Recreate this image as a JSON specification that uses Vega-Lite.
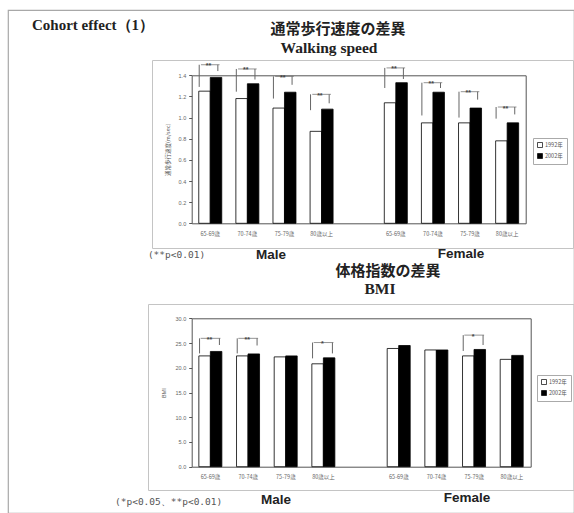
{
  "$schema": "https://vega.github.io/schema/vega-lite/v6.json",
  "width": 566,
  "height": 503,
  "autosize": {"type": "none"},
  "padding": {"left": 8, "top": 10, "right": 0, "bottom": 0},
  "background": "white",
  "config": {"view": {"stroke": "#a8a8a8", "strokeWidth": 1.2}, "axis": {"grid": false}},
  "datasets": {
    "walk": [
      {"cat": "M:65-69歳", "sex": "Male", "age": "65-69歳", "year": "1992年", "speed": 1.25},
      {"cat": "M:65-69歳", "sex": "Male", "age": "65-69歳", "year": "2002年", "speed": 1.38},
      {"cat": "M:70-74歳", "sex": "Male", "age": "70-74歳", "year": "1992年", "speed": 1.18},
      {"cat": "M:70-74歳", "sex": "Male", "age": "70-74歳", "year": "2002年", "speed": 1.32},
      {"cat": "M:75-79歳", "sex": "Male", "age": "75-79歳", "year": "1992年", "speed": 1.09},
      {"cat": "M:75-79歳", "sex": "Male", "age": "75-79歳", "year": "2002年", "speed": 1.24},
      {"cat": "M:80歳以上", "sex": "Male", "age": "80歳以上", "year": "1992年", "speed": 0.87},
      {"cat": "M:80歳以上", "sex": "Male", "age": "80歳以上", "year": "2002年", "speed": 1.08},
      {"cat": "F:65-69歳", "sex": "Female", "age": "65-69歳", "year": "1992年", "speed": 1.14},
      {"cat": "F:65-69歳", "sex": "Female", "age": "65-69歳", "year": "2002年", "speed": 1.33},
      {"cat": "F:70-74歳", "sex": "Female", "age": "70-74歳", "year": "1992年", "speed": 0.95},
      {"cat": "F:70-74歳", "sex": "Female", "age": "70-74歳", "year": "2002年", "speed": 1.24},
      {"cat": "F:75-79歳", "sex": "Female", "age": "75-79歳", "year": "1992年", "speed": 0.95},
      {"cat": "F:75-79歳", "sex": "Female", "age": "75-79歳", "year": "2002年", "speed": 1.09},
      {"cat": "F:80歳以上", "sex": "Female", "age": "80歳以上", "year": "1992年", "speed": 0.78},
      {"cat": "F:80歳以上", "sex": "Female", "age": "80歳以上", "year": "2002年", "speed": 0.95}
    ],
    "walkSig": [
      {"cat": "M:65-69歳", "sig": "**", "bracket": 1.5, "leg1992": 1.29, "leg2002": 1.44},
      {"cat": "M:70-74歳", "sig": "**", "bracket": 1.46, "leg1992": 1.245, "leg2002": 1.36},
      {"cat": "M:75-79歳", "sig": "**", "bracket": 1.39, "leg1992": 1.18, "leg2002": 1.31},
      {"cat": "M:80歳以上", "sig": "**", "bracket": 1.22, "leg1992": 1.07, "leg2002": 1.135},
      {"cat": "F:65-69歳", "sig": "**", "bracket": 1.47, "leg1992": 1.28, "leg2002": 1.365},
      {"cat": "F:70-74歳", "sig": "**", "bracket": 1.33, "leg1992": 1.02, "leg2002": 1.28},
      {"cat": "F:75-79歳", "sig": "**", "bracket": 1.245, "leg1992": 1.0, "leg2002": 1.17},
      {"cat": "F:80歳以上", "sig": "**", "bracket": 1.1, "leg1992": 0.99, "leg2002": 1.03}
    ],
    "bmi": [
      {"cat": "M:65-69歳", "sex": "Male", "age": "65-69歳", "year": "1992年", "bmi": 22.4},
      {"cat": "M:65-69歳", "sex": "Male", "age": "65-69歳", "year": "2002年", "bmi": 23.3},
      {"cat": "M:70-74歳", "sex": "Male", "age": "70-74歳", "year": "1992年", "bmi": 22.4},
      {"cat": "M:70-74歳", "sex": "Male", "age": "70-74歳", "year": "2002年", "bmi": 22.8},
      {"cat": "M:75-79歳", "sex": "Male", "age": "75-79歳", "year": "1992年", "bmi": 22.2},
      {"cat": "M:75-79歳", "sex": "Male", "age": "75-79歳", "year": "2002年", "bmi": 22.4},
      {"cat": "M:80歳以上", "sex": "Male", "age": "80歳以上", "year": "1992年", "bmi": 20.8},
      {"cat": "M:80歳以上", "sex": "Male", "age": "80歳以上", "year": "2002年", "bmi": 22.0},
      {"cat": "F:65-69歳", "sex": "Female", "age": "65-69歳", "year": "1992年", "bmi": 23.9},
      {"cat": "F:65-69歳", "sex": "Female", "age": "65-69歳", "year": "2002年", "bmi": 24.5},
      {"cat": "F:70-74歳", "sex": "Female", "age": "70-74歳", "year": "1992年", "bmi": 23.6},
      {"cat": "F:70-74歳", "sex": "Female", "age": "70-74歳", "year": "2002年", "bmi": 23.6},
      {"cat": "F:75-79歳", "sex": "Female", "age": "75-79歳", "year": "1992年", "bmi": 22.4},
      {"cat": "F:75-79歳", "sex": "Female", "age": "75-79歳", "year": "2002年", "bmi": 23.7},
      {"cat": "F:80歳以上", "sex": "Female", "age": "80歳以上", "year": "1992年", "bmi": 21.7},
      {"cat": "F:80歳以上", "sex": "Female", "age": "80歳以上", "year": "2002年", "bmi": 22.5}
    ],
    "bmiSig": [
      {"cat": "M:65-69歳", "sig": "**", "bracket": 25.95, "leg1992": 22.9, "leg2002": 24.6},
      {"cat": "M:70-74歳", "sig": "**", "bracket": 25.95, "leg1992": 22.9, "leg2002": 24.5},
      {"cat": "M:80歳以上", "sig": "*", "bracket": 25.1, "leg1992": 21.9, "leg2002": 22.9},
      {"cat": "F:75-79歳", "sig": "*", "bracket": 26.6, "leg1992": 23.4, "leg2002": 24.6}
    ]
  },
  "layer": [
    {
      "data": {"name": "walk"},
      "mark": {"type": "bar", "stroke": "black", "strokeWidth": 0.8},
      "encoding": {
        "x": {"field": "cat", "type": "nominal", "scale": {"type": "band", "domain": ["M:65-69歳", "M:70-74歳", "M:75-79歳", "M:80歳以上", "_", "F:65-69歳", "F:70-74歳", "F:75-79歳", "F:80歳以上"], "range": [183.7, 517.7], "paddingInner": 0.38, "paddingOuter": 0.19},
          "axis": {"orient": "bottom", "offset": -289.7, "title": null, "labelExpr": "slice(datum.value, 2)", "labelFont": "Noto Sans CJK JP", "labelFontSize": 5.5, "labelColor": "#666", "labelAngle": 0, "labelPadding": 8, "labelOverlap": false, "ticks": false, "domainColor": "#555"}},
        "xOffset": {"field": "year", "type": "nominal", "scale": {"domain": ["1992年", "2002年"]}},
        "y": {"field": "speed", "type": "quantitative", "scale": {"domain": [0, 1.4], "range": [213.3, 65.3], "nice": false, "zero": false},
          "axis": {"orient": "left", "offset": -183.7, "values": [0, 0.2, 0.4, 0.6, 0.8, 1.0, 1.2, 1.4], "format": ".1f", "title": "通常歩行速度(m/sec)", "titleFont": "Noto Sans CJK JP", "titleFontSize": 5.5, "titleFontWeight": "normal", "titleColor": "#555", "titlePadding": 8, "labelFont": "Liberation Sans", "labelFontSize": 5.5, "labelColor": "#666", "labelPadding": 3, "tickSize": 3, "tickColor": "#555", "domainColor": "#555"}},
        "fill": {"field": "year", "type": "nominal", "scale": {"domain": ["1992年", "2002年"], "range": ["white", "black"]},
          "legend": {"title": null, "orient": "none", "legendX": 525, "legendY": 128, "symbolType": "square", "symbolSize": 25, "symbolStrokeColor": "black", "symbolStrokeWidth": 0.7, "labelFont": "Noto Sans CJK JP", "labelFontSize": 5.5, "labelColor": "#555", "strokeColor": "#aaa", "fillColor": "white", "padding": 4, "rowPadding": 3, "labelOffset": 2}}
      }
    },
    {
      "data": {"name": "walk"},
      "mark": {"type": "point", "opacity": 0},
      "encoding": {
        "x": {"field": "cat", "type": "nominal", "scale": {"type": "band", "domain": ["M:65-69歳", "M:70-74歳", "M:75-79歳", "M:80歳以上", "_", "F:65-69歳", "F:70-74歳", "F:75-79歳", "F:80歳以上"], "range": [183.7, 517.7], "paddingInner": 0.38, "paddingOuter": 0.19},
          "axis": {"orient": "top", "offset": -65.3, "labels": false, "ticks": false, "title": null, "domainColor": "#555"}},
        "y": {"field": "speed", "type": "quantitative", "scale": {"domain": [0, 1.4], "range": [213.3, 65.3], "nice": false, "zero": false},
          "axis": {"orient": "right", "offset": -48.3, "labels": false, "ticks": false, "title": null, "domainColor": "#555"}}
      }
    },
    {
      "data": {"name": "walkSig"},
      "mark": {"type": "rule", "color": "#666", "strokeWidth": 1},
      "encoding": {
        "x": {"field": "cat", "type": "nominal", "bandPosition": 0.02, "scale": {"type": "band", "domain": ["M:65-69歳", "M:70-74歳", "M:75-79歳", "M:80歳以上", "_", "F:65-69歳", "F:70-74歳", "F:75-79歳", "F:80歳以上"], "range": [183.7, 517.7], "paddingInner": 0.38, "paddingOuter": 0.19}, "axis": null},
        "y": {"field": "bracket", "type": "quantitative", "scale": {"domain": [0, 1.4], "range": [213.3, 65.3], "nice": false, "zero": false}, "axis": null},
        "y2": {"field": "leg1992"}
      }
    },
    {
      "data": {"name": "walkSig"},
      "mark": {"type": "rule", "color": "#666", "strokeWidth": 1},
      "encoding": {
        "x": {"field": "cat", "type": "nominal", "bandPosition": 0.83, "scale": {"type": "band", "domain": ["M:65-69歳", "M:70-74歳", "M:75-79歳", "M:80歳以上", "_", "F:65-69歳", "F:70-74歳", "F:75-79歳", "F:80歳以上"], "range": [183.7, 517.7], "paddingInner": 0.38, "paddingOuter": 0.19}, "axis": null},
        "y": {"field": "bracket", "type": "quantitative", "scale": {"domain": [0, 1.4], "range": [213.3, 65.3], "nice": false, "zero": false}, "axis": null},
        "y2": {"field": "leg2002"}
      }
    },
    {
      "data": {"name": "walkSig"},
      "mark": {"type": "tick", "color": "#666", "thickness": 1, "size": 18.6},
      "encoding": {
        "x": {"field": "cat", "type": "nominal", "bandPosition": 0.425, "scale": {"type": "band", "domain": ["M:65-69歳", "M:70-74歳", "M:75-79歳", "M:80歳以上", "_", "F:65-69歳", "F:70-74歳", "F:75-79歳", "F:80歳以上"], "range": [183.7, 517.7], "paddingInner": 0.38, "paddingOuter": 0.19}, "axis": null},
        "y": {"field": "bracket", "type": "quantitative", "scale": {"domain": [0, 1.4], "range": [213.3, 65.3], "nice": false, "zero": false}, "axis": null}
      }
    },
    {
      "data": {"name": "walkSig"},
      "mark": {"type": "text", "font": "Liberation Sans", "fontSize": 7, "fontWeight": "bold", "color": "#444", "baseline": "middle", "dy": 1.5},
      "encoding": {
        "x": {"field": "cat", "type": "nominal", "bandPosition": 0.425, "scale": {"type": "band", "domain": ["M:65-69歳", "M:70-74歳", "M:75-79歳", "M:80歳以上", "_", "F:65-69歳", "F:70-74歳", "F:75-79歳", "F:80歳以上"], "range": [183.7, 517.7], "paddingInner": 0.38, "paddingOuter": 0.19}, "axis": null},
        "y": {"field": "bracket", "type": "quantitative", "scale": {"domain": [0, 1.4], "range": [213.3, 65.3], "nice": false, "zero": false}, "axis": null},
        "text": {"field": "sig"}
      }
    },
    {
      "data": {"values": [{}]},
      "mark": {"type": "text", "font": "Noto Sans CJK JP", "fontWeight": "bold", "fontSize": 15, "align": "center", "baseline": "middle", "color": "#222", "text": "通常歩行速度の差異"},
      "encoding": {
        "x": {"datum": "M:80歳以上", "type": "nominal", "bandPosition": 1.214, "scale": {"type": "band", "domain": ["M:65-69歳", "M:70-74歳", "M:75-79歳", "M:80歳以上", "_", "F:65-69歳", "F:70-74歳", "F:75-79歳", "F:80歳以上"], "range": [183.7, 517.7], "paddingInner": 0.38, "paddingOuter": 0.19}, "axis": null},
        "y": {"datum": 1.84, "type": "quantitative", "scale": {"domain": [0, 1.4], "range": [213.3, 65.3], "nice": false, "zero": false}, "axis": null}
      }
    },
    {
      "data": {"values": [{}]},
      "mark": {"type": "text", "font": "Liberation Serif", "fontWeight": "bold", "fontSize": 15.5, "align": "center", "baseline": "middle", "color": "#222", "text": "Walking speed"},
      "encoding": {
        "x": {"datum": "M:80歳以上", "type": "nominal", "bandPosition": 0.823, "scale": {"type": "band", "domain": ["M:65-69歳", "M:70-74歳", "M:75-79歳", "M:80歳以上", "_", "F:65-69歳", "F:70-74歳", "F:75-79歳", "F:80歳以上"], "range": [183.7, 517.7], "paddingInner": 0.38, "paddingOuter": 0.19}, "axis": null},
        "y": {"datum": 1.66, "type": "quantitative", "scale": {"domain": [0, 1.4], "range": [213.3, 65.3], "nice": false, "zero": false}, "axis": null}
      }
    },
    {
      "data": {"values": [{}]},
      "mark": {"type": "text", "font": "Liberation Sans", "fontWeight": "bold", "fontSize": 13.5, "align": "center", "baseline": "middle", "color": "#222", "text": "Male"},
      "encoding": {
        "x": {"datum": "M:75-79歳", "type": "nominal", "bandPosition": -0.09, "scale": {"type": "band", "domain": ["M:65-69歳", "M:70-74歳", "M:75-79歳", "M:80歳以上", "_", "F:65-69歳", "F:70-74歳", "F:75-79歳", "F:80歳以上"], "range": [183.7, 517.7], "paddingInner": 0.38, "paddingOuter": 0.19}, "axis": null},
        "y": {"datum": -0.3, "type": "quantitative", "scale": {"domain": [0, 1.4], "range": [213.3, 65.3], "nice": false, "zero": false}, "axis": null}
      }
    },
    {
      "data": {"values": [{}]},
      "mark": {"type": "text", "font": "Liberation Sans", "fontWeight": "bold", "fontSize": 13.5, "align": "center", "baseline": "middle", "color": "#222", "text": "Female"},
      "encoding": {
        "x": {"datum": "F:75-79歳", "type": "nominal", "bandPosition": 0.11, "scale": {"type": "band", "domain": ["M:65-69歳", "M:70-74歳", "M:75-79歳", "M:80歳以上", "_", "F:65-69歳", "F:70-74歳", "F:75-79歳", "F:80歳以上"], "range": [183.7, 517.7], "paddingInner": 0.38, "paddingOuter": 0.19}, "axis": null},
        "y": {"datum": -0.29, "type": "quantitative", "scale": {"domain": [0, 1.4], "range": [213.3, 65.3], "nice": false, "zero": false}, "axis": null}
      }
    },
    {
      "data": {"values": [{}]},
      "mark": {"type": "text", "font": "DejaVu Sans Mono", "fontSize": 9.5, "align": "left", "baseline": "middle", "color": "#555", "text": "(**p<0.01)"},
      "encoding": {
        "x": {"datum": "M:65-69歳", "type": "nominal", "bandPosition": -2.21, "scale": {"type": "band", "domain": ["M:65-69歳", "M:70-74歳", "M:75-79歳", "M:80歳以上", "_", "F:65-69歳", "F:70-74歳", "F:75-79歳", "F:80歳以上"], "range": [183.7, 517.7], "paddingInner": 0.38, "paddingOuter": 0.19}, "axis": null},
        "y": {"datum": -0.3, "type": "quantitative", "scale": {"domain": [0, 1.4], "range": [213.3, 65.3], "nice": false, "zero": false}, "axis": null}
      }
    },
    {
      "data": {"values": [{}]},
      "mark": {"type": "point", "opacity": 0},
      "encoding": {
        "x": {"datum": 0, "type": "quantitative", "scale": {"domain": [0, 1], "range": [144, 565], "nice": false, "zero": false}, "axis": {"orient": "top", "offset": -50, "labels": false, "ticks": false, "title": null, "domainColor": "#c4c4c4"}},
        "y": {"datum": 0, "type": "quantitative", "scale": {"domain": [0, 1], "range": [238, 50], "nice": false, "zero": false}, "axis": {"orient": "left", "offset": -144, "labels": false, "ticks": false, "title": null, "domainColor": "#c4c4c4"}}
      }
    },
    {
      "data": {"values": [{}]},
      "mark": {"type": "point", "opacity": 0},
      "encoding": {
        "x": {"datum": 0, "type": "quantitative", "scale": {"domain": [0, 1], "range": [144, 565], "nice": false, "zero": false}, "axis": {"orient": "bottom", "offset": -265, "labels": false, "ticks": false, "title": null, "domainColor": "#c4c4c4"}},
        "y": {"datum": 0, "type": "quantitative", "scale": {"domain": [0, 1], "range": [238, 50], "nice": false, "zero": false}, "axis": {"orient": "right", "offset": -1, "labels": false, "ticks": false, "title": null, "domainColor": "#c4c4c4"}}
      }
    },
    {
      "data": {"values": [{}]},
      "mark": {"type": "text", "font": "Liberation Serif", "fontWeight": "bold", "fontSize": 15, "align": "left", "baseline": "middle", "color": "#222", "text": "Cohort effect（1）"},
      "encoding": {
        "x": {"datum": -0.285, "type": "quantitative", "scale": {"domain": [0, 1], "range": [144, 565], "nice": false, "zero": false}, "axis": null},
        "y": {"datum": 1.186, "type": "quantitative", "scale": {"domain": [0, 1], "range": [238, 50], "nice": false, "zero": false}, "axis": null}
      }
    },
    {
      "data": {"name": "bmi"},
      "mark": {"type": "bar", "stroke": "black", "strokeWidth": 0.8},
      "encoding": {
        "x": {"field": "cat", "type": "nominal", "scale": {"type": "band", "domain": ["M:65-69歳", "M:70-74歳", "M:75-79歳", "M:80歳以上", "_", "F:65-69歳", "F:70-74歳", "F:75-79歳", "F:80歳以上"], "range": [183.7, 522.7], "paddingInner": 0.38, "paddingOuter": 0.19},
          "axis": {"orient": "bottom", "offset": -46.3, "title": null, "labelExpr": "slice(datum.value, 2)", "labelFont": "Noto Sans CJK JP", "labelFontSize": 5.5, "labelColor": "#666", "labelAngle": 0, "labelPadding": 8, "labelOverlap": false, "ticks": false, "domainColor": "#555"}},
        "xOffset": {"field": "year", "type": "nominal", "scale": {"domain": ["1992年", "2002年"]}},
        "y": {"field": "bmi", "type": "quantitative", "scale": {"domain": [0, 30], "range": [456.7, 308.3], "nice": false, "zero": false},
          "axis": {"orient": "left", "offset": -183.7, "values": [0, 5, 10, 15, 20, 25, 30], "format": ".1f", "title": "BMI", "titleFont": "Liberation Sans", "titleFontSize": 5.5, "titleFontWeight": "normal", "titleColor": "#555", "titlePadding": 8, "labelFont": "Liberation Sans", "labelFontSize": 5.5, "labelColor": "#666", "labelPadding": 3, "tickSize": 3, "tickColor": "#555", "domainColor": "#555"}},
        "fill": {"field": "year", "type": "nominal", "scale": {"domain": ["1992年", "2002年"], "range": ["white", "black"]},
          "legend": {"title": null, "orient": "none", "legendX": 529, "legendY": 365, "symbolType": "square", "symbolSize": 25, "symbolStrokeColor": "black", "symbolStrokeWidth": 0.7, "labelFont": "Noto Sans CJK JP", "labelFontSize": 5.5, "labelColor": "#555", "strokeColor": "#aaa", "fillColor": "white", "padding": 4, "rowPadding": 3, "labelOffset": 2}}
      }
    },
    {
      "data": {"name": "bmi"},
      "mark": {"type": "point", "opacity": 0},
      "encoding": {
        "x": {"field": "cat", "type": "nominal", "scale": {"type": "band", "domain": ["M:65-69歳", "M:70-74歳", "M:75-79歳", "M:80歳以上", "_", "F:65-69歳", "F:70-74歳", "F:75-79歳", "F:80歳以上"], "range": [183.7, 522.7], "paddingInner": 0.38, "paddingOuter": 0.19},
          "axis": {"orient": "top", "offset": -308.3, "labels": false, "ticks": false, "title": null, "domainColor": "#555"}},
        "y": {"field": "bmi", "type": "quantitative", "scale": {"domain": [0, 30], "range": [456.7, 308.3], "nice": false, "zero": false},
          "axis": {"orient": "right", "offset": -43.3, "labels": false, "ticks": false, "title": null, "domainColor": "#555"}}
      }
    },
    {
      "data": {"name": "bmiSig"},
      "mark": {"type": "rule", "color": "#666", "strokeWidth": 1},
      "encoding": {
        "x": {"field": "cat", "type": "nominal", "bandPosition": 0.03, "scale": {"type": "band", "domain": ["M:65-69歳", "M:70-74歳", "M:75-79歳", "M:80歳以上", "_", "F:65-69歳", "F:70-74歳", "F:75-79歳", "F:80歳以上"], "range": [183.7, 522.7], "paddingInner": 0.38, "paddingOuter": 0.19}, "axis": null},
        "y": {"field": "bracket", "type": "quantitative", "scale": {"domain": [0, 30], "range": [456.7, 308.3], "nice": false, "zero": false}, "axis": null},
        "y2": {"field": "leg1992"}
      }
    },
    {
      "data": {"name": "bmiSig"},
      "mark": {"type": "rule", "color": "#666", "strokeWidth": 1},
      "encoding": {
        "x": {"field": "cat", "type": "nominal", "bandPosition": 0.88, "scale": {"type": "band", "domain": ["M:65-69歳", "M:70-74歳", "M:75-79歳", "M:80歳以上", "_", "F:65-69歳", "F:70-74歳", "F:75-79歳", "F:80歳以上"], "range": [183.7, 522.7], "paddingInner": 0.38, "paddingOuter": 0.19}, "axis": null},
        "y": {"field": "bracket", "type": "quantitative", "scale": {"domain": [0, 30], "range": [456.7, 308.3], "nice": false, "zero": false}, "axis": null},
        "y2": {"field": "leg2002"}
      }
    },
    {
      "data": {"name": "bmiSig"},
      "mark": {"type": "tick", "color": "#666", "thickness": 1, "size": 19.8},
      "encoding": {
        "x": {"field": "cat", "type": "nominal", "bandPosition": 0.455, "scale": {"type": "band", "domain": ["M:65-69歳", "M:70-74歳", "M:75-79歳", "M:80歳以上", "_", "F:65-69歳", "F:70-74歳", "F:75-79歳", "F:80歳以上"], "range": [183.7, 522.7], "paddingInner": 0.38, "paddingOuter": 0.19}, "axis": null},
        "y": {"field": "bracket", "type": "quantitative", "scale": {"domain": [0, 30], "range": [456.7, 308.3], "nice": false, "zero": false}, "axis": null}
      }
    },
    {
      "data": {"name": "bmiSig"},
      "mark": {"type": "text", "font": "Liberation Sans", "fontSize": 7, "fontWeight": "bold", "color": "#444", "baseline": "middle", "dy": 1.5},
      "encoding": {
        "x": {"field": "cat", "type": "nominal", "bandPosition": 0.455, "scale": {"type": "band", "domain": ["M:65-69歳", "M:70-74歳", "M:75-79歳", "M:80歳以上", "_", "F:65-69歳", "F:70-74歳", "F:75-79歳", "F:80歳以上"], "range": [183.7, 522.7], "paddingInner": 0.38, "paddingOuter": 0.19}, "axis": null},
        "y": {"field": "bracket", "type": "quantitative", "scale": {"domain": [0, 30], "range": [456.7, 308.3], "nice": false, "zero": false}, "axis": null},
        "text": {"field": "sig"}
      }
    },
    {
      "data": {"values": [{}]},
      "mark": {"type": "text", "font": "Noto Sans CJK JP", "fontWeight": "bold", "fontSize": 15, "align": "center", "baseline": "middle", "color": "#222", "text": "体格指数の差異"},
      "encoding": {
        "x": {"datum": "F:65-69歳", "type": "nominal", "bandPosition": 0.03, "scale": {"type": "band", "domain": ["M:65-69歳", "M:70-74歳", "M:75-79歳", "M:80歳以上", "_", "F:65-69歳", "F:70-74歳", "F:75-79歳", "F:80歳以上"], "range": [183.7, 522.7], "paddingInner": 0.38, "paddingOuter": 0.19}, "axis": null},
        "y": {"datum": 39.6, "type": "quantitative", "scale": {"domain": [0, 30], "range": [456.7, 308.3], "nice": false, "zero": false}, "axis": null}
      }
    },
    {
      "data": {"values": [{}]},
      "mark": {"type": "text", "font": "Liberation Serif", "fontWeight": "bold", "fontSize": 15.5, "align": "center", "baseline": "middle", "color": "#222", "text": "BMI"},
      "encoding": {
        "x": {"datum": "F:65-69歳", "type": "nominal", "bandPosition": -0.31, "scale": {"type": "band", "domain": ["M:65-69歳", "M:70-74歳", "M:75-79歳", "M:80歳以上", "_", "F:65-69歳", "F:70-74歳", "F:75-79歳", "F:80歳以上"], "range": [183.7, 522.7], "paddingInner": 0.38, "paddingOuter": 0.19}, "axis": null},
        "y": {"datum": 36.0, "type": "quantitative", "scale": {"domain": [0, 30], "range": [456.7, 308.3], "nice": false, "zero": false}, "axis": null}
      }
    },
    {
      "data": {"values": [{}]},
      "mark": {"type": "text", "font": "Liberation Sans", "fontWeight": "bold", "fontSize": 13.5, "align": "center", "baseline": "middle", "color": "#222", "text": "Male"},
      "encoding": {
        "x": {"datum": "M:75-79歳", "type": "nominal", "bandPosition": 0.077, "scale": {"type": "band", "domain": ["M:65-69歳", "M:70-74歳", "M:75-79歳", "M:80歳以上", "_", "F:65-69歳", "F:70-74歳", "F:75-79歳", "F:80歳以上"], "range": [183.7, 522.7], "paddingInner": 0.38, "paddingOuter": 0.19}, "axis": null},
        "y": {"datum": -6.73, "type": "quantitative", "scale": {"domain": [0, 30], "range": [456.7, 308.3], "nice": false, "zero": false}, "axis": null}
      }
    },
    {
      "data": {"values": [{}]},
      "mark": {"type": "text", "font": "Liberation Sans", "fontWeight": "bold", "fontSize": 13.5, "align": "center", "baseline": "middle", "color": "#222", "text": "Female"},
      "encoding": {
        "x": {"datum": "F:75-79歳", "type": "nominal", "bandPosition": 0.19, "scale": {"type": "band", "domain": ["M:65-69歳", "M:70-74歳", "M:75-79歳", "M:80歳以上", "_", "F:65-69歳", "F:70-74歳", "F:75-79歳", "F:80歳以上"], "range": [183.7, 522.7], "paddingInner": 0.38, "paddingOuter": 0.19}, "axis": null},
        "y": {"datum": -6.33, "type": "quantitative", "scale": {"domain": [0, 30], "range": [456.7, 308.3], "nice": false, "zero": false}, "axis": null}
      }
    },
    {
      "data": {"values": [{}]},
      "mark": {"type": "text", "font": "DejaVu Sans Mono", "fontSize": 9.5, "align": "left", "baseline": "middle", "color": "#555", "text": "(*p<0.05、**p<0.01)"},
      "encoding": {
        "x": {"datum": "M:65-69歳", "type": "nominal", "bandPosition": -3.59, "scale": {"type": "band", "domain": ["M:65-69歳", "M:70-74歳", "M:75-79歳", "M:80歳以上", "_", "F:65-69歳", "F:70-74歳", "F:75-79歳", "F:80歳以上"], "range": [183.7, 522.7], "paddingInner": 0.38, "paddingOuter": 0.19}, "axis": null},
        "y": {"datum": -7.14, "type": "quantitative", "scale": {"domain": [0, 30], "range": [456.7, 308.3], "nice": false, "zero": false}, "axis": null}
      }
    },
    {
      "data": {"values": [{}]},
      "mark": {"type": "point", "opacity": 0},
      "encoding": {
        "x": {"datum": 0, "type": "quantitative", "scale": {"domain": [0, 1], "range": [140, 565.5], "nice": false, "zero": false}, "axis": {"orient": "top", "offset": -294, "labels": false, "ticks": false, "title": null, "domainColor": "#c4c4c4"}},
        "y": {"datum": 0, "type": "quantitative", "scale": {"domain": [0, 1], "range": [480, 294], "nice": false, "zero": false}, "axis": {"orient": "left", "offset": -140, "labels": false, "ticks": false, "title": null, "domainColor": "#c4c4c4"}}
      }
    },
    {
      "data": {"values": [{}]},
      "mark": {"type": "point", "opacity": 0},
      "encoding": {
        "x": {"datum": 0, "type": "quantitative", "scale": {"domain": [0, 1], "range": [140, 565.5], "nice": false, "zero": false}, "axis": {"orient": "bottom", "offset": -23, "labels": false, "ticks": false, "title": null, "domainColor": "#c4c4c4"}},
        "y": {"datum": 0, "type": "quantitative", "scale": {"domain": [0, 1], "range": [480, 294], "nice": false, "zero": false}, "axis": {"orient": "right", "offset": -0.5, "labels": false, "ticks": false, "title": null, "domainColor": "#c4c4c4"}}
      }
    }
  ],
  "resolve": {
    "scale": {"x": "independent", "y": "independent", "fill": "independent"},
    "axis": {"x": "independent", "y": "independent"},
    "legend": {"fill": "independent"}
  }
}
